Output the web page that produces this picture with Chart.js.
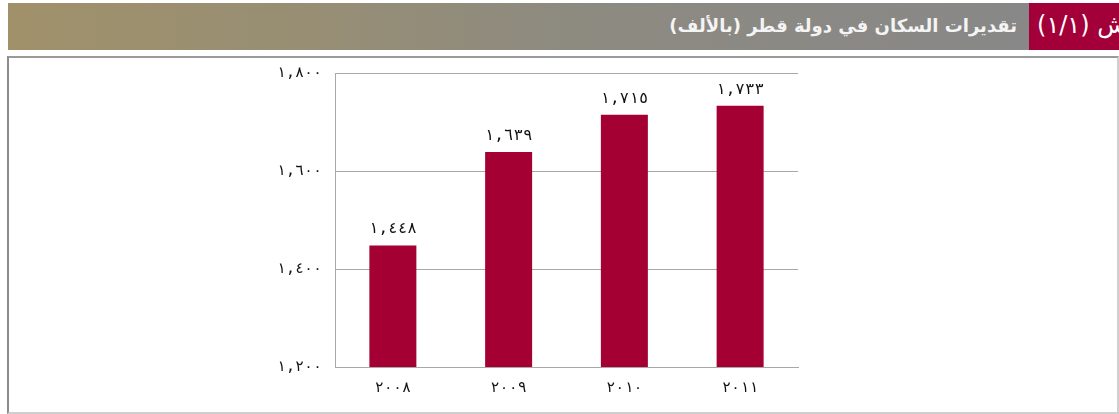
<!DOCTYPE html>
<html lang="ar">
<head>
<meta charset="utf-8">
<script src="https://cdn.jsdelivr.net/npm/chart.js@4.4.1/dist/chart.umd.min.js"></script>
<style>
  html, body { margin: 0; padding: 0; background: #ffffff; }
  body { width: 1119px; height: 414px; position: relative; overflow: hidden; font-family: "DejaVu Sans", sans-serif; }
  #hdr { position: absolute; left: 8px; top: 3px; width: 1021px; height: 47px;
         background: linear-gradient(to right, #a0916a 0%, #978e74 30%, #8d8a80 55%, #888888 100%); }
  #hdrTitle { position: absolute; right: 12px; top: 0; height: 47px; line-height: 45px; color: #f4f4f4;
              font-weight: bold; font-size: 18px; direction: rtl; white-space: nowrap; }
  #tag { position: absolute; left: 1029px; top: 3px; width: 90px; height: 47px; background: #a3003a; overflow: hidden; }
  #tagText { position: absolute; left: 8px; top: 0; height: 47px; line-height: 45px; color: #ffffff;
             font-size: 24px; direction: rtl; white-space: nowrap; }
  #frame { position: absolute; left: 7px; top: 56px; width: 1108px; height: 354px;
           border-left: 2px solid #8c8c8c; border-top: 2px solid #9a9a9a;
           border-right: 2px solid #cfcfcf; border-bottom: 2px solid #cfcfcf; }
  #wrap { position: absolute; left: 0; top: 0; width: 1119px; height: 414px; }
</style>
</head>
<body>
<div id="hdr"><div id="hdrTitle">تقديرات السكان في دولة قطر (بالألف)</div></div>
<div id="tag"><span id="tagText">ش (١/١)</span></div>
<div id="frame"></div>
<div id="wrap"><canvas id="c"></canvas></div>
<script>
const categories = ['٢٠٠٨', '٢٠٠٩', '٢٠١٠', '٢٠١١'];
const population = [1448, 1639, 1715, 1733];
const valueLabels = ['١,٤٤٨', '١,٦٣٩', '١,٧١٥', '١,٧٣٣'];
const yTickValues = [1200, 1400, 1600, 1800];
const yTickLabels = ['١,٢٠٠', '١,٤٠٠', '١,٦٠٠', '١,٨٠٠'];

const barColor = '#a50034';
const gridColor = '#a8a8a8';
const textColor = '#111111';
const digitFont = '"DejaVu Sans Mono", "DejaVu Sans", sans-serif';

const valueLabelPlugin = {
  id: 'valueLabels',
  afterDatasetsDraw(chart) {
    const ctx = chart.ctx;
    const meta = chart.getDatasetMeta(0);
    ctx.save();
    ctx.font = '16px ' + digitFont;
    ctx.fillStyle = textColor;
    ctx.textAlign = 'center';
    ctx.textBaseline = 'alphabetic';
    meta.data.forEach((bar, i) => {
      ctx.fillText(valueLabels[i], bar.x, bar.y - 12);
    });
    ctx.restore();
  }
};

new Chart(document.getElementById('c'), {
  type: 'bar',
  data: {
    labels: categories,
    datasets: [{
      data: population,
      backgroundColor: barColor,
      borderWidth: 0,
      barPercentage: 0.406,
      categoryPercentage: 1.0
    }]
  },
  options: {
    responsive: true,
    maintainAspectRatio: false,
    animation: false,
    events: [],
    layout: { padding: { left: 275, right: 321, top: 73, bottom: 17 } },
    plugins: { legend: { display: false }, tooltip: { enabled: false }, title: { display: false } },
    scales: {
      x: {
        grid: { display: false, drawTicks: false },
        border: { display: true, color: gridColor, width: 1 },
        ticks: { color: textColor, font: { family: digitFont, size: 15 }, padding: 12 },
        afterFit(scale) { scale.height = 30; }
      },
      y: {
        min: 1200, max: 1800,
        afterBuildTicks(scale) { scale.ticks = yTickValues.map(v => ({ value: v })); },
        grid: { color: gridColor, lineWidth: 1, drawTicks: false },
        border: { display: true, color: gridColor, width: 1 },
        ticks: {
          color: textColor,
          font: { family: digitFont, size: 15 },
          padding: 13,
          callback(value) { const i = yTickValues.indexOf(value); return i >= 0 ? yTickLabels[i] : ''; }
        },
        afterFit(scale) { scale.width = 60; }
      }
    }
  },
  plugins: [valueLabelPlugin]
});
</script>
</body>
</html>
